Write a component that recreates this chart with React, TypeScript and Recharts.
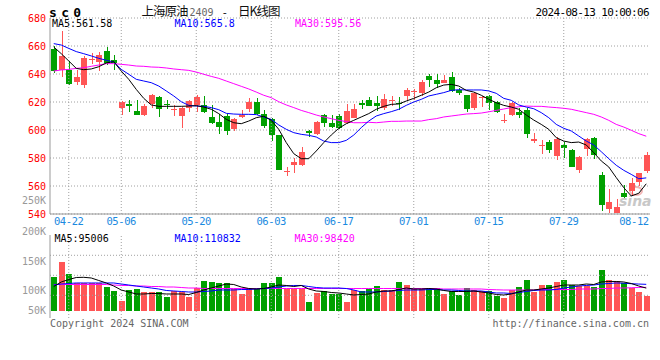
import React from 'react';
import { ComposedChart, Bar, Line, XAxis, YAxis, CartesianGrid, ReferenceLine } from 'recharts';

const MONO = "'DejaVu Sans Mono', monospace";
const CJK = "'Noto Sans CJK SC', sans-serif";
const RED = '#ff5555';
const GREEN = '#00a000';
const GRID = '#a0a0a0';
const BORDER = '#999999';
const TICK_BLUE = '#1a8ae0';

const dates = [
  '04-18','04-19','04-22','04-23','04-24','04-25','04-26','04-29','04-30',
  '05-06','05-07','05-08','05-09','05-10','05-13','05-14','05-15','05-16','05-17','05-20','05-21','05-22','05-23','05-24','05-27','05-28','05-29','05-30','05-31',
  '06-03','06-04','06-05','06-06','06-07','06-11','06-12','06-13','06-14','06-17','06-18','06-19','06-20','06-21','06-24','06-25','06-26','06-27','06-28',
  '07-01','07-02','07-03','07-04','07-05','07-08','07-09','07-10','07-11','07-12','07-15','07-16','07-17','07-18','07-19','07-22','07-23','07-24','07-25','07-26','07-29','07-30','07-31',
  '08-01','08-02','08-05','08-06','08-07','08-08','08-09','08-12','08-13',
];

const openP = [
  658, 643, 643, 634.5, 632, 650.2, 648.3, 656.7, 650.2,
  616, 618.6, 613.8, 611, 618.8, 623.8, 618.6, 614.5, 609.8, 616, 618.1, 618.1, 609.5, 606, 610.2, 600.5, 609, 614.8, 620.2, 611.7,
  608.1, 596.2, 570.2, 575, 574.8, 599.5, 597.4, 610.7, 605.2, 610.2, 605.2, 608.8, 619.5, 621.7, 619.5, 615.7, 620.7, 619.3, 624,
  627.1, 626.2, 638.8, 636, 633.8, 637.9, 628.6, 625, 615.5, 622.9, 624.5, 620.2, 606.7, 611, 613.1, 614.5, 591.9, 588.8, 591.7, 581.4, 589.5, 586, 571.7,
  586.2, 594.5, 568.1, 543.8, 540.7, 555.2, 556.4, 562.6, 570.7,
];
const highP = [
  660, 671, 649, 643, 652.6, 655, 656, 659, 653.3,
  620.5, 621.7, 621.7, 618.8, 625.5, 624.5, 621.7, 617.9, 616.4, 621.7, 625, 624.5, 618.1, 611.2, 611.4, 608.8, 614, 623.1, 622.6, 614.5,
  608.8, 596.5, 573.6, 580.2, 588.1, 599.8, 606.4, 611.7, 611, 611.7, 618.8, 618.8, 621.7, 623.8, 624.5, 626, 624.5, 623.8, 629.8,
  629.5, 635.5, 640, 640, 639.5, 641.7, 630, 625.2, 627, 624.5, 625.2, 620.5, 611.7, 619.8, 616, 616, 597.9, 592.9, 593.1, 595.2, 591.2, 586.2, 581.7,
  594.5, 595.2, 570.2, 557.6, 550.7, 560.7, 565.5, 569.3, 584.5,
];
const lowP = [
  641, 638, 632.5, 632, 630, 647, 642, 646.4, 642.6,
  611, 612.6, 610.5, 609.8, 616, 609, 615, 609.8, 601.2, 613, 613, 611.9, 604.5, 596.9, 596.2, 599, 608.8, 613.1, 611, 601.2,
  592.4, 571.2, 566.9, 569, 574.5, 595, 596.2, 602.1, 601.7, 601, 604, 608.5, 615.2, 617, 613.8, 614.5, 617.4, 614, 620.7,
  621.4, 624.5, 631, 630.2, 633.5, 627.5, 624.8, 612.6, 614.5, 616.7, 614, 611.9, 605, 609.8, 608.8, 594.5, 590.5, 583.1, 583.3, 578.3, 579.8, 573.6, 569.3,
  581.2, 579, 542.4, 541, 540.5, 551.2, 553.6, 559.8, 569,
];
const closeP = [
  642.5, 652.6, 633, 638, 651.7, 651, 653.6, 647.6, 647.9,
  620.2, 617.4, 611, 617.4, 625.2, 614.8, 617.9, 615.2, 615.5, 621, 623.8, 612.6, 605.2, 602.4, 599, 607.6, 611, 620.2, 611.7, 602.6,
  596.2, 571.7, 570.7, 577.4, 584.5, 597.6, 606, 604.8, 602.4, 601.7, 613.8, 615.2, 618.1, 617.4, 617.4, 622.4, 621.2, 618.6, 628.8,
  627.9, 634.5, 636, 633.1, 636, 627.9, 626.2, 614.8, 626.7, 623.6, 619, 612.6, 607.4, 619, 611, 597.4, 593.8, 589.3, 585.5, 593.8, 586.9, 573.8, 581,
  593.8, 581.9, 546.7, 548.8, 545.2, 552.4, 561.9, 569, 581.9,
];

const ma5 = [
  659.3, 654.5, 649.3, 644, 643.1, 643.6, 645.2, 647.9, 648.8,
  642.1, 636.2, 629, 622.6, 617.9, 616.9, 616.9, 616.9, 616.9, 617.1, 617.4, 616.4, 614.8, 611.7, 607.6, 605.2, 604.5, 606.4, 608.8, 609.8,
  606.9, 600.5, 591, 583.1, 579.5, 579.5, 585, 591, 596.4, 601.2, 604.5, 606.9, 609.3, 611.7, 614.8, 616.9, 618.3, 618.6, 620.7,
  622.6, 624.8, 627.1, 630.2, 632.1, 632.6, 631.4, 628.3, 627.1, 624.8, 621.9, 619.5, 617.6, 616.4, 614.8, 610.7, 607.1, 604, 600.5, 594.5, 592.1, 591, 591.4,
  589.3, 583.8, 577.9, 573.6, 566, 558.8, 552.9, 554.8, 561.58,
];
const ma10 = [
  661.7, 660.7, 658.3, 656, 654.5, 652.9, 651.2, 649.8, 648.6,
  643.3, 639.8, 636.2, 635, 633.8, 631.4, 627.9, 624.3, 620.2, 617.6, 617.1, 616.9, 616, 614.5, 611.9, 611.4, 611.2, 611.2, 611, 609.3,
  607.6, 603.6, 600.5, 598.1, 596.9, 596.2, 595, 592.1, 591, 591, 592.6, 596.4, 601.7, 606.4, 610, 611.7, 613.1, 614.8, 617.6,
  620, 621.9, 624.3, 625.5, 626.7, 628.3, 628.8, 628.6, 628.6, 628.6, 627.9, 626.2, 622.6, 621.2, 617.9, 616.4, 615.2, 612.4, 608.8, 604, 601.2, 599.3, 595.7,
  592.1, 589.3, 584.5, 579.5, 574.8, 571.2, 568.3, 565.2, 565.8,
];
const ma30 = [
  642.1, 642.9, 643.3, 644, 644.5, 645.5, 646.4, 647.4, 647.4,
  646.9, 646.4, 645.7, 645.5, 645, 644.8, 644.3, 643.6, 643.1, 642.6, 641.4, 639.8, 638.3, 636.9, 635, 633.1, 631.2, 629.3, 627.1, 624.8,
  623.1, 620.2, 617.9, 616, 614, 612.4, 610.7, 609.3, 608.1, 606.9, 606, 605.2, 605.2, 605.5, 605.2, 605.7, 606.2, 606.2, 606.4,
  606.4, 606.4, 607.4, 608.1, 609.3, 610, 610.7, 611.4, 611.7, 612.1, 613, 614, 615, 616, 616.6, 617.1, 616.9, 616.9, 616.4, 616, 615.5, 614.8, 613.6,
  612.4, 611.2, 609.3, 606.9, 604, 602.1, 599.8, 597.4, 595.56,
];

// volume in thousands (K)
const volumeK = [
  141.7, 206, 154.3, 115.6, 115.6, 115.6, 115.6, 99.6, 82.8,
  40.8, 87, 91.2, 78.6, 78.6, 78.6, 57.6, 82.8, 78.6, 55.5, 94.2, 124.9, 120.7, 116.5, 116.5, 91.2, 70.2, 91.2, 91.2, 116.5,
  116.5, 141.7, 93.3, 93.3, 93.3, 36.6, 74.4, 82.8, 70.2, 70.2, 36.6, 87, 80.7, 91.2, 103.8, 87, 84.9, 120.7, 108,
  91.2, 91.2, 95.4, 95.4, 70.2, 82.8, 66, 95.4, 87, 80.7, 80.7, 61.8, 53.4, 87, 99.6, 129, 78.6, 108, 108, 120.7, 129, 108, 103.8,
  103.8, 99.6, 171.1, 129, 124.9, 116.5, 95.4, 78.6, 63,
];
const volMa5K = [
  101.7, 120.7, 131, 139.6, 140.4, 137.5, 127, 116.5, 103.8,
  87, 78.6, 70.2, 70.2, 72.3, 72.3, 70.2, 70.2, 70.2, 68, 76.5, 87, 95.4, 103.8, 112.2, 110.1, 99.6, 93.3, 91.2, 93.3,
  99.6, 108, 106, 101.7, 106, 91.2, 82.8, 80.7, 76.5, 74.4, 70.2, 66, 68, 70.2, 78.6, 82.8, 82.8, 89.1, 95.4,
  91.2, 91.2, 93.3, 91.2, 85, 80.7, 80.7, 80.7, 82.8, 78.6, 74.4, 68, 66, 70.2, 78.6, 87, 87, 91.2, 95.4, 101.7, 108, 108, 108,
  112.2, 110.1, 120.7, 122.8, 122.8, 120.7, 114.3, 103.8, 95.006,
];
const volMa10K = [
  108, 112.2, 114.3, 116.5, 116.5, 116.5, 116.5, 116.5, 116.5,
  112.2, 108, 103.8, 99.6, 95.4, 91.2, 85, 82.8, 80.7, 78.6, 78.6, 80.7, 82.8, 87, 87, 87, 89.1, 89.1, 91.2, 93.3,
  95.4, 99.6, 103.8, 106, 106, 101.7, 97.5, 95.4, 95.4, 95.4, 93.3, 87, 78.6, 78.6, 78.6, 80.7, 82.8, 85, 87,
  87, 87, 89.1, 89.1, 87, 87, 85, 82.8, 82.8, 82.8, 78.6, 74.4, 74.4, 72.3, 76.5, 80.7, 85, 87, 87, 89.1, 95.4, 99.6, 103.8,
  106, 108, 112.2, 114.3, 116.5, 115.5, 113.5, 112, 110.832,
];
const volMa30K = [
  110.1, 110.1, 110.1, 110.1, 110.1, 110.1, 110.1, 110.1, 108,
  106, 106, 103.8, 103.8, 101.7, 101.7, 99.6, 99.6, 97.5, 95.4, 95.4, 93.3, 93.3, 93.3, 93.3, 93.3, 93.3, 93.3, 93.3, 93.3,
  93.3, 93.3, 93.3, 93.3, 93.3, 93.3, 93.3, 93.3, 93.3, 93.3, 93.3, 93.3, 93.3, 93.3, 93.3, 93.3, 93.3, 93.3, 93.3,
  93.3, 93.3, 93.3, 93.3, 91.2, 91.2, 91.2, 91.2, 91.2, 91.2, 89, 88, 87, 87, 87, 87, 87, 89.1, 89.1, 89.1, 89.1, 89.1, 91.2,
  91.2, 91.2, 93.3, 93.3, 95.4, 95.4, 96.5, 97.5, 98.42,
];

const priceTicks = [540, 560, 580, 600, 620, 640, 660, 680];
const dateTicks = ['04-22', '05-06', '05-20', '06-03', '06-17', '07-01', '07-15', '07-29', '08-12'];
const gridDates = ['04-22', '05-06', '05-20', '06-03', '06-17', '07-01', '07-15', '07-29'];
const volTickValues = [0, 84100, 208900, 318200];
const volTickLabels = ['50K', '100K', '150K', '200K'];
const volGridValues = [64700, 148800, 232900];
const strayLabelPrice = 549.5;

const priceData = dates.map((d, i) => ({
  date: d,
  open: openP[i],
  high: highP[i],
  low: lowP[i],
  close: closeP[i],
  range: [lowP[i], highP[i]],
  ma5: ma5[i],
  ma10: ma10[i],
  ma30: ma30[i],
}));

const volData = dates.map((d, i) => ({
  date: d,
  up: closeP[i] >= openP[i],
  vol: volumeK[i] * 1000,
  vma5: volMa5K[i] * 1000,
  vma10: volMa10K[i] * 1000,
  vma30: volMa30K[i] * 1000,
}));

const Candle = (props: any) => {
  const { x, y, width, height, payload } = props;
  if (!payload || x == null || y == null) return null;
  const { open, close, high, low } = payload;
  const up = close >= open;
  const color = up ? RED : GREEN;
  const top = Math.min(y, y + height);
  const h = Math.abs(height);
  const k = high > low ? h / (high - low) : 0;
  const yOf = (v: number) => top + (high - v) * k;
  const cx = Math.round(x + width / 2);
  const bTop = Math.round(yOf(Math.max(open, close)));
  const bBot = Math.max(bTop + 1, Math.round(yOf(Math.min(open, close))));
  const wTop = Math.round(top);
  const wBot = Math.round(top + h);
  return (
    <g shapeRendering="crispEdges">
      <rect x={cx} y={wTop} width={1} height={Math.max(1, wBot - wTop)} fill={color} />
      <rect x={cx - 3} y={bTop} width={6} height={bBot - bTop} fill={color} />
    </g>
  );
};

const VolBar = (props: any) => {
  const { x, y, width, height, payload } = props;
  if (!payload || x == null || y == null) return null;
  const cx = Math.round(x + width / 2);
  const top = Math.round(Math.min(y, y + height));
  const bot = Math.round(Math.max(y, y + height));
  return (
    <rect x={cx - 3} y={top} width={6} height={Math.max(1, bot - top)}
      fill={payload.up ? RED : GREEN} shapeRendering="crispEdges" />
  );
};

const DateTick = (props: any) => {
  const { x, y, payload } = props;
  let tx = x;
  if (tx + 15 > 649) tx = 649 - 15;
  return (
    <text x={tx} y={y + 11} textAnchor="middle" fill={TICK_BLUE} fontSize={10.5}
      fontFamily={MONO} letterSpacing={-0.4}>
      {payload.value}
    </text>
  );
};

const VolTick = (props: any) => {
  const { x, y, payload } = props;
  const i = volTickValues.indexOf(payload.value);
  const dy = i === volTickValues.length - 1 ? -4 : 0;
  return (
    <text x={x} y={y + dy} dy="0.355em" textAnchor="end" fill="#999999" fontSize={10} fontFamily={MONO}>
      {i >= 0 ? volTickLabels[i] : ''}
    </text>
  );
};

export default function App() {
  return (
    <div style={{ position: 'absolute', left: 0, top: 0, width: 660, height: 360, background: '#ffffff', overflow: 'hidden' }}>
      {/* watermark (behind the chart) */}
      <svg width={660} height={360} style={{ position: 'absolute', left: 0, top: 0 }}>
        <ellipse cx={636} cy={191} rx={6} ry={4} fill="none" stroke="#f2b8b8" strokeWidth={2} />
        <text x={619} y={206} fontSize={14} fontWeight="bold" fontStyle="italic" fontFamily="'DejaVu Sans', sans-serif" fill="#c8c8c8">sina</text>
      </svg>

      <div style={{ position: 'absolute', left: 0, top: 0 }}>
        <ComposedChart width={660} height={229} data={priceData} margin={{ top: 18, right: 10, bottom: 0, left: 0 }}>
          <CartesianGrid vertical={false} stroke={GRID} strokeDasharray="1 2" />
          <XAxis dataKey="date" ticks={dateTicks} interval={0} tickLine={false} tickSize={0} tickMargin={0}
            height={15} axisLine={{ stroke: BORDER }} tick={<DateTick />} />
          <XAxis xAxisId="top" dataKey="date" orientation="top" height={0} tick={false} tickLine={false}
            axisLine={{ stroke: BORDER }} />
          <YAxis domain={[540, 680]} ticks={priceTicks} interval={0} width={50} tickLine={false} tickSize={0}
            tickMargin={4} axisLine={{ stroke: BORDER }} allowDataOverflow
            tick={{ fill: '#ff0000', fontSize: 10, fontFamily: MONO }} />
          <YAxis yAxisId="right" orientation="right" width={0} domain={[0, 1]} tick={false} tickLine={false}
            axisLine={{ stroke: BORDER }} />
          {gridDates.map((d) => (
            <ReferenceLine key={d} x={d} stroke={GRID} strokeDasharray="1 2" />
          ))}
          <ReferenceLine y={strayLabelPrice} stroke="none"
            label={{ value: '250K', position: 'left', offset: 4, fill: '#999999', fontSize: 10, fontFamily: MONO }} />
          <Bar dataKey="range" barSize={6} shape={Candle} isAnimationActive={false} />
          <Line type="linear" dataKey="ma30" stroke="#ff00ff" strokeWidth={1} dot={false} isAnimationActive={false} />
          <Line type="linear" dataKey="ma10" stroke="#0000ff" strokeWidth={1} dot={false} isAnimationActive={false} />
          <Line type="linear" dataKey="ma5" stroke="#000000" strokeWidth={1} dot={false} isAnimationActive={false} />
        </ComposedChart>
      </div>

      <div style={{ position: 'absolute', left: 0, top: 226 }}>
        <ComposedChart width={660} height={103} data={volData} margin={{ top: 9, right: 10, bottom: 11, left: 0 }}>
          <XAxis dataKey="date" height={0} tick={false} tickLine={false} axisLine={{ stroke: BORDER }} />
          <XAxis xAxisId="top" dataKey="date" orientation="top" height={0} tick={false} tickLine={false}
            axisLine={{ stroke: BORDER }} />
          <YAxis domain={[-30700, 318200]} ticks={volTickValues} interval={0} width={50} tickLine={false}
            tickSize={0} tickMargin={4} axisLine={{ stroke: BORDER }} allowDataOverflow tick={<VolTick />} />
          <YAxis yAxisId="right" orientation="right" width={0} domain={[0, 1]} tick={false} tickLine={false}
            axisLine={{ stroke: BORDER }} />
          {volGridValues.map((v) => (
            <ReferenceLine key={v} y={v} stroke={GRID} strokeDasharray="1 2" />
          ))}
          {gridDates.map((d) => (
            <ReferenceLine key={d} x={d} stroke={GRID} strokeDasharray="1 2" />
          ))}
          <Bar dataKey="vol" barSize={6} shape={VolBar} isAnimationActive={false} />
          <Line type="linear" dataKey="vma30" stroke="#ff00ff" strokeWidth={1} dot={false} isAnimationActive={false} />
          <Line type="linear" dataKey="vma10" stroke="#0000ff" strokeWidth={1} dot={false} isAnimationActive={false} />
          <Line type="linear" dataKey="vma5" stroke="#000000" strokeWidth={1} dot={false} isAnimationActive={false} />
        </ComposedChart>
      </div>

      {/* texts */}
      <svg width={660} height={360} style={{ position: 'absolute', left: 0, top: 0, pointerEvents: 'none' }}>
        <text x={49} y={16.5} fontSize={13} fontWeight="bold" fontFamily={MONO} letterSpacing={4.3} fill="#000">sc0</text>
        <text x={141.5} y={16} fontSize={12.5} fontFamily={CJK} letterSpacing={-1} fill="#111">上海原油</text>
        <text x={189.5} y={15.5} fontSize={10} fontFamily={MONO} fill="#666">2409</text>
        <text x={221.5} y={15.5} fontSize={11} fontFamily={MONO} fill="#111">-</text>
        <text x={238} y={16} fontSize={12.5} fontFamily={CJK} letterSpacing={-1} fill="#111">日K线图</text>
        <text x={649} y={15.7} textAnchor="end" fontSize={11} fontFamily={MONO} letterSpacing={-0.65} fill="#000">2024-08-13 10:00:06</text>

        <text x={52} y={27.3} fontSize={10} fontFamily={MONO} fill="#000000">MA5:561.58</text>
        <text x={174.5} y={27.3} fontSize={10} fontFamily={MONO} fill="#0000ff">MA10:565.8</text>
        <text x={295} y={27.3} fontSize={10} fontFamily={MONO} fill="#ff00ff">MA30:595.56</text>

        <text x={54.5} y={242} fontSize={10} fontFamily={MONO} fill="#000000">MA5:95006</text>
        <text x={174.5} y={242} fontSize={10} fontFamily={MONO} fill="#0000ff">MA10:110832</text>
        <text x={294.5} y={242} fontSize={10} fontFamily={MONO} fill="#ff00ff">MA30:98420</text>

        <text x={50} y={327} fontSize={10} fontFamily={MONO} fill="#666">Copyright 2024 SINA.COM</text>
        <text x={649} y={327} textAnchor="end" fontSize={10} fontFamily={MONO} fill="#666">http://finance.sina.com.cn</text>
      </svg>
    </div>
  );
}
